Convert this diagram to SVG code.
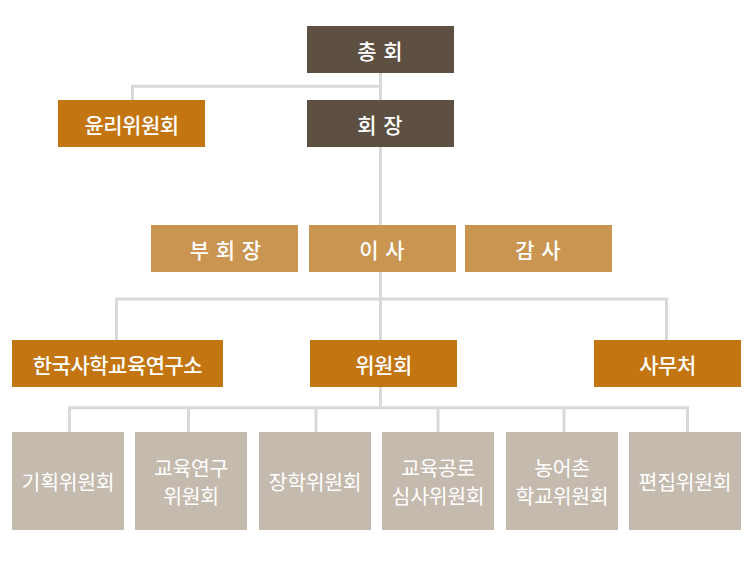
<svg xmlns="http://www.w3.org/2000/svg" width="752" height="564" viewBox="0 0 752 564">
<style>
.ln{stroke:#d9d9d9;stroke-width:3;fill:none}
.t{font-family:"Noto Sans CJK KR","Noto Sans",sans-serif;fill:#fff;text-anchor:middle;dominant-baseline:central;font-size:21px;font-weight:500;letter-spacing:-0.5px}
.b{font-weight:400;font-size:20.5px;letter-spacing:-0.3px}
.sp{letter-spacing:1px}
.dk{fill:#5d4f42}
.or{fill:#c27511}
.lo{fill:#c99550}
.gy{fill:#c4baae}
</style>
<rect width="752" height="564" fill="#fff"/>
<g id="connectors">
<path class="ln" d="M380.5 73V407.8"/>
<path class="ln" d="M380.5 86.2H132.5V100"/>
<path class="ln" d="M116.5 340V299H666.5V340"/>
<path class="ln" d="M69.5 432V407.8H687.5V432"/>
<path class="ln" d="M188.5 407.8V432M316 407.8V432M438 407.8V432M564 407.8V432"/>
</g>
<g id="n-chonghoe"><rect class="dk" x="307" y="26" width="147" height="47"/><text class="t sp" x="380.5" y="49.5">총 회</text></g>
<g id="n-yulli"><rect class="or" x="58" y="100" width="147" height="47"/><text class="t" x="131.5" y="123.5">윤리위원회</text></g>
<g id="n-hoejang"><rect class="dk" x="307" y="100" width="147" height="47"/><text class="t sp" x="380.5" y="123.5">회 장</text></g>
<g id="n-buhoejang"><rect class="lo" x="151" y="225" width="147" height="47"/><text class="t sp" x="226" y="248.5">부 회 장</text></g>
<g id="n-isa"><rect class="lo" x="309" y="225" width="147" height="47"/><text class="t sp" x="382.5" y="248.5">이 사</text></g>
<g id="n-gamsa"><rect class="lo" x="465" y="225" width="147" height="47"/><text class="t sp" x="538.5" y="248.5">감 사</text></g>
<g id="n-yeonguso"><rect class="or" x="12" y="340" width="211" height="47"/><text class="t" x="117.5" y="363.5">한국사학교육연구소</text></g>
<g id="n-wiwonhoe"><rect class="or" x="310" y="340" width="147" height="47"/><text class="t" x="383.5" y="363.5">위원회</text></g>
<g id="n-samucheo"><rect class="or" x="594" y="340" width="147" height="47"/><text class="t" x="667.5" y="363.5">사무처</text></g>
<g id="n-gihoek"><rect class="gy" x="12" y="432" width="112" height="98"/><text class="t b" x="68" y="481">기획위원회</text></g>
<g id="n-gyoyukyeongu"><rect class="gy" x="135" y="432" width="112" height="98"/><text class="t b" x="191" y="467">교육연구</text><text class="t b" x="191" y="495">위원회</text></g>
<g id="n-janghak"><rect class="gy" x="259" y="432" width="112" height="98"/><text class="t b" x="315" y="481">장학위원회</text></g>
<g id="n-gyoyukgongro"><rect class="gy" x="382" y="432" width="112" height="98"/><text class="t b" x="438" y="467">교육공로</text><text class="t b" x="438" y="495">심사위원회</text></g>
<g id="n-nongeochon"><rect class="gy" x="506" y="432" width="112" height="98"/><text class="t b" x="562" y="467">농어촌</text><text class="t b" x="562" y="495">학교위원회</text></g>
<g id="n-pyeonjip"><rect class="gy" x="629" y="432" width="112" height="98"/><text class="t b" x="685" y="481">편집위원회</text></g>
</svg>
